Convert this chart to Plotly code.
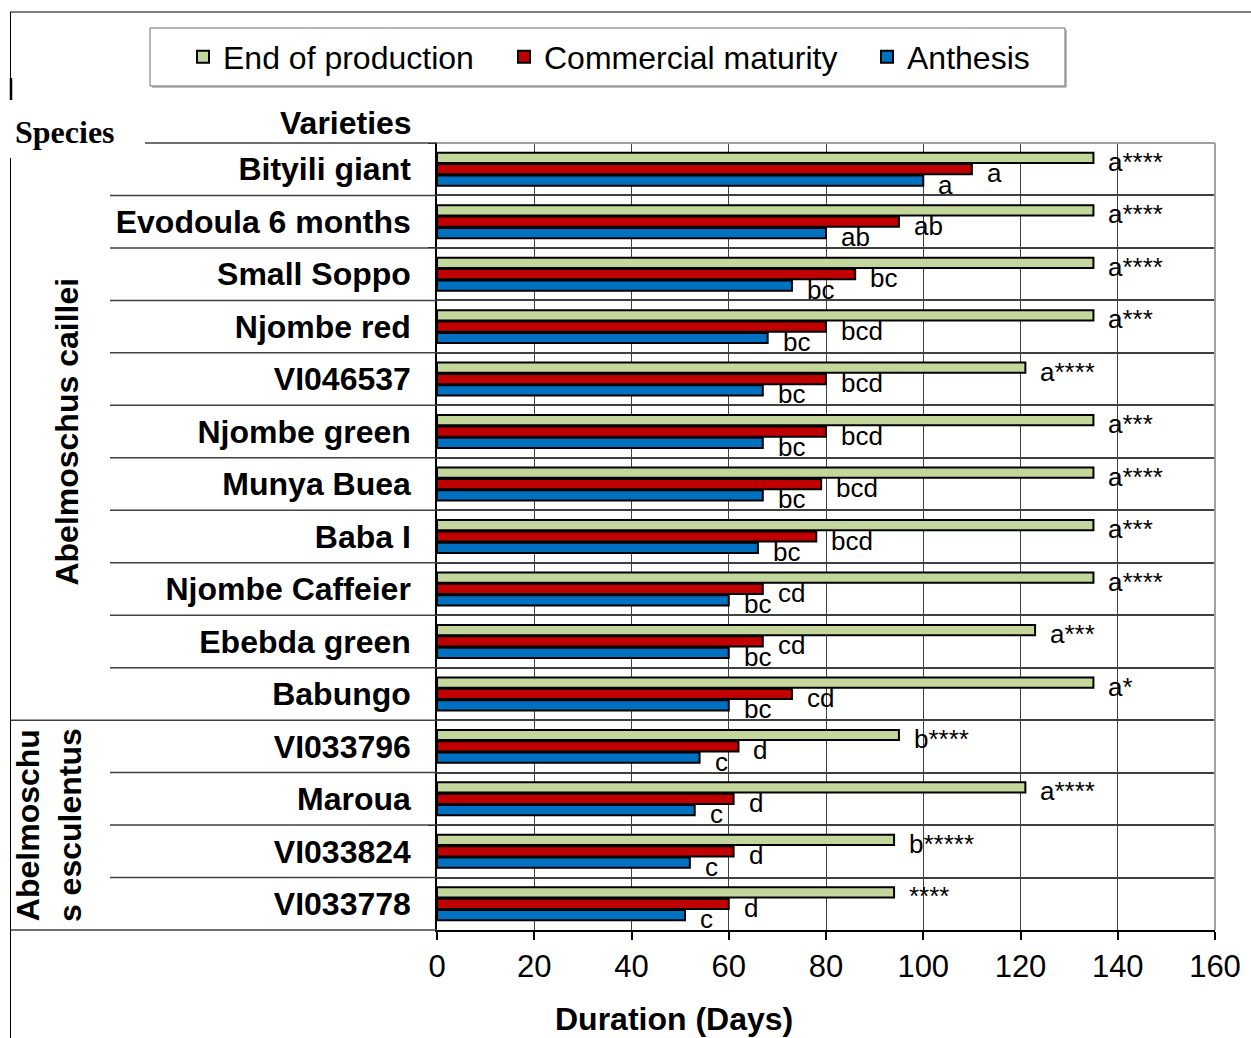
import plotly.graph_objects as go

# ---- data ---------------------------------------------------------------
varieties = [
    "Bityili giant", "Evodoula 6 months", "Small Soppo", "Njombe red",
    "VI046537", "Njombe green", "Munya Buea", "Baba I", "Njombe Caffeier",
    "Ebebda green", "Babungo", "VI033796", "Maroua", "VI033824", "VI033778",
]
species_names = ["Abelmoschus caillei", "Abelmoschu<br>s esculentus"]
species_counts = [11, 4]

end_of_production = [135, 135, 135, 135, 121, 135, 135, 135, 135, 123, 135, 95, 121, 94, 94]
commercial_maturity = [110, 95, 86, 80, 80, 80, 79, 78, 67, 67, 73, 62, 61, 61, 60]
anthesis = [100, 80, 73, 68, 67, 67, 67, 66, 60, 60, 60, 54, 53, 52, 51]

end_letters = ["a****", "a****", "a****", "a***", "a****", "a***", "a****", "a***",
               "a****", "a***", "a*", "b****", "a****", "b*****", "****"]
maturity_letters = ["a", "ab", "bc", "bcd", "bcd", "bcd", "bcd", "bcd",
                    "cd", "cd", "cd", "d", "d", "d", "d"]
anthesis_letters = ["a", "ab", "bc", "bc", "bc", "bc", "bc", "bc",
                    "bc", "bc", "bc", "c", "c", "c", "c"]

x_ticks = [0, 20, 40, 60, 80, 100, 120, 140, 160]

# ---- layout geometry ------------------------------------------------------
W, H = 1251, 1038
L, R, T, B = 437, 36, 143, 108
PW, PH = W - L - R, H - T - B
SANS = "Liberation Sans, Arial, sans-serif"
SERIF = "Liberation Serif, Times New Roman, serif"
GRID = "#404040"
BARGAP = 0.35


def px_x(p):
    return (p - L) / PW


def px_y(p):
    return (H - B - p) / PH


series = [
    ("End of production", end_of_production, "#C3D69B", end_letters, "legend", 183),
    ("Commercial maturity", commercial_maturity, "#C00000", maturity_letters, "legend2", 504),
    ("Anthesis", anthesis, "#0070C0", anthesis_letters, "legend3", 867),
]

fig = go.Figure()
annotations = []
legends = {}
slot = (1 - BARGAP) / len(series)

for k, (name, vals, color, letters, lg, lgx) in enumerate(series):
    fig.add_trace(go.Bar(
        y=varieties, x=vals, orientation="h", name=name,
        marker=dict(color=color, line=dict(color="black", width=2)),
        legend=lg,
    ))
    offset = (k - (len(series) - 1) / 2) * slot
    for i, (v, txt) in enumerate(zip(vals, letters)):
        annotations.append(dict(
            x=v, y=i + offset, xref="x", yref="y", text=txt, showarrow=False,
            xanchor="left", yanchor="middle", xshift=13, yshift=-4,
            font=dict(family=SANS, size=26, color="black"),
        ))
    legends[lg] = dict(
        x=lgx / W, y=1 - 57 / H, xref="container", yref="container",
        xanchor="left", yanchor="middle", orientation="h",
        bgcolor="rgba(0,0,0,0)", borderwidth=0,
        font=dict(family=SANS, size=32, color="black"),
    )

# species labels (rotated), centred on their block of varieties
start = 0
for nm, cnt in zip(species_names, species_counts):
    centre = start + (cnt - 1) / 2
    annotations.append(dict(
        x=px_x(67 if cnt > 4 else 49), y=centre, xref="paper", yref="y",
        text=nm, textangle=-90, showarrow=False, xanchor="center", yanchor="middle",
        font=dict(family=SANS, size=32, color="black", weight="bold"),
    ))
    start += cnt

annotations += [
    dict(x=px_x(346), y=px_y(123), xref="paper", yref="paper", text="Varieties",
         showarrow=False, xanchor="center", yanchor="middle",
         font=dict(family=SANS, size=32, color="black", weight="bold")),
    dict(x=px_x(13), y=px_y(132), xref="paper", yref="paper", text="Species",
         showarrow=False, xanchor="left", yanchor="middle",
         font=dict(family=SERIF, size=32, color="black", weight="bold")),
    dict(x=px_x(674), y=px_y(1019), xref="paper", yref="paper", text="Duration (Days)",
         showarrow=False, xanchor="center", yanchor="middle",
         font=dict(family=SANS, size=32, color="black", weight="bold")),
]

shapes = []
# row separators in the label table
boundaries = []
acc = 0
for cnt in species_counts:
    acc += cnt
    boundaries.append(acc - 0.5)
for i in range(len(varieties) - 1):
    b = i + 0.5
    x0 = px_x(10) if b in boundaries else px_x(110)
    shapes.append(dict(type="line", xref="paper", yref="y", x0=x0, x1=0, y0=b, y1=b,
                       line=dict(color=GRID, width=1.5)))
# header and bottom lines of the table
shapes.append(dict(type="line", xref="paper", yref="paper", x0=px_x(145), x1=0, y0=1, y1=1,
                   line=dict(color=GRID, width=1.5)))
shapes.append(dict(type="line", xref="paper", yref="paper", x0=px_x(10), x1=0, y0=0, y1=0,
                   line=dict(color=GRID, width=1.5)))
# plot frame (top / right)
shapes.append(dict(type="line", xref="paper", yref="paper", x0=0, x1=1, y0=1, y1=1,
                   line=dict(color="#a0a0a0", width=2)))
shapes.append(dict(type="line", xref="paper", yref="paper", x0=1, x1=1, y0=0, y1=1,
                   line=dict(color="#a0a0a0", width=2)))
# outer frame
shapes.append(dict(type="line", xref="paper", yref="paper", x0=px_x(10), x1=px_x(W),
                   y0=px_y(12), y1=px_y(12), line=dict(color="black", width=1)))
shapes.append(dict(type="line", xref="paper", yref="paper", x0=px_x(10.5), x1=px_x(10.5),
                   y0=px_y(12), y1=px_y(100), line=dict(color="black", width=1)))
shapes.append(dict(type="line", xref="paper", yref="paper", x0=px_x(11), x1=px_x(11),
                   y0=px_y(78), y1=px_y(100), line=dict(color="black", width=2.5)))
shapes.append(dict(type="line", xref="paper", yref="paper", x0=px_x(10.5), x1=px_x(10.5),
                   y0=px_y(158), y1=px_y(H), line=dict(color="black", width=1)))
# legend box with soft shadow
shapes.append(dict(type="line", xref="paper", yref="paper", x0=px_x(152), x1=px_x(1066),
                   y0=px_y(87), y1=px_y(87), line=dict(color="#a6a6a6", width=1.5)))
shapes.append(dict(type="line", xref="paper", yref="paper", x0=px_x(1066), x1=px_x(1066),
                   y0=px_y(30), y1=px_y(87), line=dict(color="#a6a6a6", width=1.5)))
shapes.append(dict(type="rect", xref="paper", yref="paper", x0=px_x(150), x1=px_x(1065),
                   y0=px_y(86), y1=px_y(28), line=dict(color="#6f6f6f", width=1),
                   fillcolor="rgba(0,0,0,0)"))

fig.update_layout(
    width=W, height=H,
    margin=dict(l=L, r=R, t=T, b=B, autoexpand=False),
    paper_bgcolor="white", plot_bgcolor="white",
    barmode="group", bargap=BARGAP, bargroupgap=0.1,
    showlegend=True,
    annotations=annotations, shapes=shapes,
    xaxis=dict(
        range=[0, 160], tickvals=x_ticks, ticks="outside", ticklen=8,
        tickcolor="black", tickwidth=1.5, showline=True, linecolor="black", linewidth=1.5,
        showgrid=True, gridcolor=GRID, gridwidth=1, zeroline=False,
        tickfont=dict(family=SANS, size=31, color="black"),
    ),
    yaxis=dict(
        type="category", categoryorder="array", categoryarray=varieties,
        range=[len(varieties) - 0.5, -0.5], autorange=False,
        tickson="boundaries", ticks="outside", ticklen=7,
        tickcolor="black", showline=True, linecolor="black", linewidth=1.5,
        showgrid=True, gridcolor=GRID, gridwidth=1.5,
        tickfont=dict(family=SANS, size=32, color="black", weight="bold"),
        ticklabelstandoff=18,
    ),
    **legends,
)

fig.write_html("out.html")
